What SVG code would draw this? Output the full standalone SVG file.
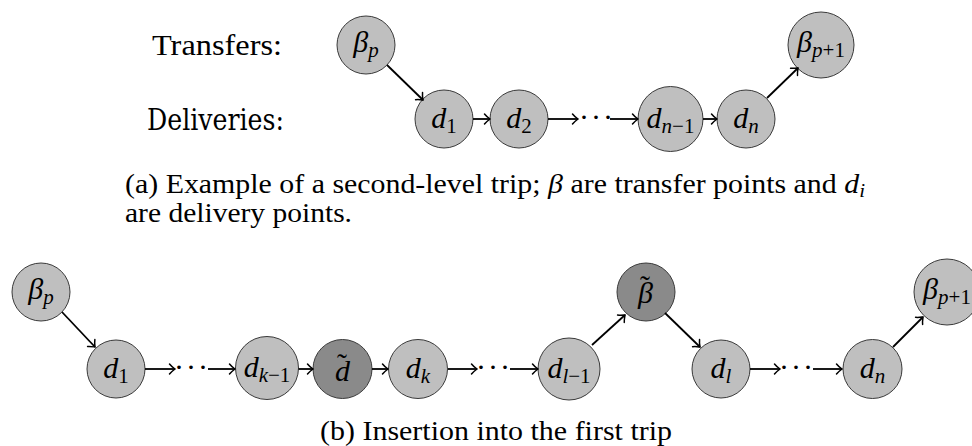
<svg xmlns="http://www.w3.org/2000/svg" width="972" height="446" viewBox="0 0 972 446">
<style>
.n{fill:#bfbfbf;stroke:#3a3a3a;stroke-width:1}
.dk{fill:#8a8a8a}
.lbl{font-size:30px;font-style:italic;fill:#000}
.sub{font-size:21px}
.up{font-style:normal}
.tl{font-style:normal}
.row{font-size:30px;fill:#000}
.cap{font-size:27px;fill:#000}
.it{font-style:italic}
.dots{font-size:30px;fill:#000;letter-spacing:2px}
.e{stroke:#000;stroke-width:1.8;fill:none;marker-end:url(#ah)}
</style>
<defs>
<marker id="ah" markerUnits="userSpaceOnUse" markerWidth="14" markerHeight="14" viewBox="-8 -7 10 14" refX="0" refY="0" orient="auto" overflow="visible">
<path d="M-5.5,-5 C-3.5,-2.5 -1,-0.8 0,0 C-1,0.8 -3.5,2.5 -5.5,5" fill="none" stroke="#000" stroke-width="1.5" stroke-linecap="round"/>
</marker>
</defs>
<g font-family="Liberation Serif, serif">
<!-- (a) -->
<g id="rowlabels">
<text class="row" x="152" y="55" textLength="130" lengthAdjust="spacingAndGlyphs">Transfers:</text>
<text class="row" x="147" y="130" textLength="137" lengthAdjust="spacingAndGlyphs" font-family="DejaVu Serif">Deliveries:</text>
</g>
<g id="a-bp"><circle class="n" cx="366" cy="45" r="29"/><text class="lbl" x="366" y="52" text-anchor="middle">β<tspan class="sub" dy="5">p</tspan></text></g>
<g id="a-d1"><circle class="n" cx="444" cy="119" r="29"/><text class="lbl" x="444" y="128" text-anchor="middle">d<tspan class="sub up" dy="5">1</tspan></text></g>
<g id="a-d2"><circle class="n" cx="519" cy="119" r="29"/><text class="lbl" x="519" y="128" text-anchor="middle">d<tspan class="sub up" dy="5">2</tspan></text></g>
<g id="a-dn1"><circle class="n" cx="670.5" cy="119" r="32.5"/><text class="lbl" x="670.5" y="128" text-anchor="middle">d<tspan class="sub" dy="5">n<tspan class="up">−1</tspan></tspan></text></g>
<g id="a-dn"><circle class="n" cx="746" cy="119" r="29"/><text class="lbl" x="746" y="128" text-anchor="middle">d<tspan class="sub" dy="5">n</tspan></text></g>
<g id="a-bp1"><circle class="n" cx="821" cy="45" r="33"/><text class="lbl" x="821" y="52" text-anchor="middle">β<tspan class="sub" dy="5">p<tspan class="up">+1</tspan></tspan></text></g>
<g id="a-dots"><text class="dots" x="597" y="127" text-anchor="middle">···</text></g>
<g id="a-edges">
<line class="e" x1="387" y1="65" x2="423" y2="100"/>
<line class="e" x1="473" y1="119" x2="490" y2="119"/>
<line class="e" x1="548" y1="119" x2="578" y2="119"/>
<line class="e" x1="610" y1="119" x2="638" y2="119"/>
<line class="e" x1="703" y1="119" x2="717" y2="119"/>
<line class="e" x1="767" y1="98" x2="798" y2="68"/>
</g>
<g id="cap-a" font-family="Liberation Serif">
<text class="cap" x="125" y="193" textLength="740" lengthAdjust="spacingAndGlyphs">(a) Example of a second-level trip; <tspan class="it">β</tspan> are transfer points and <tspan class="it">d</tspan><tspan class="it" font-size="19" dy="4">i</tspan></text>
<text class="cap" x="125" y="222" textLength="227" lengthAdjust="spacingAndGlyphs">are delivery points.</text>
</g>

<!-- (b) -->
<g id="b-bp"><circle class="n" cx="41" cy="292" r="29"/><text class="lbl" x="41" y="299" text-anchor="middle">β<tspan class="sub" dy="5">p</tspan></text></g>
<g id="b-d1"><circle class="n" cx="116" cy="369" r="29"/><text class="lbl" x="116" y="378" text-anchor="middle">d<tspan class="sub up" dy="5">1</tspan></text></g>
<g id="b-dk1"><circle class="n" cx="267" cy="368" r="31.5"/><text class="lbl" x="267" y="377" text-anchor="middle">d<tspan class="sub" dy="5">k<tspan class="up">−1</tspan></tspan></text></g>
<g id="b-dt"><circle class="n dk" cx="342.5" cy="369" r="29.5"/><text class="lbl" x="335" y="381">d<tspan class="tl" dx="-13" dy="-7">˜</tspan></text></g>
<g id="b-dk"><circle class="n" cx="418" cy="369" r="29.5"/><text class="lbl" x="418" y="378" text-anchor="middle">d<tspan class="sub" dy="5">k</tspan></text></g>
<g id="b-dl1"><circle class="n" cx="569" cy="369" r="31"/><text class="lbl" x="569" y="378" text-anchor="middle">d<tspan class="sub" dy="5">l<tspan class="up">−1</tspan></tspan></text></g>
<g id="b-bt"><circle class="n dk" cx="646" cy="292" r="29"/><text class="lbl" x="638" y="303">β<tspan class="tl" dx="-13" dy="-7">˜</tspan></text></g>
<g id="b-dl"><circle class="n" cx="721" cy="369" r="29"/><text class="lbl" x="721" y="378" text-anchor="middle">d<tspan class="sub" dy="5">l</tspan></text></g>
<g id="b-dn"><circle class="n" cx="872.5" cy="369" r="29.5"/><text class="lbl" x="872.5" y="378" text-anchor="middle">d<tspan class="sub" dy="5">n</tspan></text></g>
<g id="b-bp1"><circle class="n" cx="947" cy="292" r="33"/><text class="lbl" x="947" y="299" text-anchor="middle">β<tspan class="sub" dy="5">p<tspan class="up">+1</tspan></tspan></text></g>
<g id="b-dots">
<text class="dots" x="192" y="377" text-anchor="middle">···</text>
<text class="dots" x="494" y="377" text-anchor="middle">···</text>
<text class="dots" x="797" y="377" text-anchor="middle">···</text>
</g>
<g id="b-edges">
<line class="e" x1="62" y1="312" x2="95" y2="347"/>
<line class="e" x1="145" y1="369" x2="175" y2="369"/>
<line class="e" x1="208" y1="369" x2="235" y2="369"/>
<line class="e" x1="298.5" y1="369" x2="313" y2="369"/>
<line class="e" x1="372" y1="369" x2="388" y2="369"/>
<line class="e" x1="448" y1="369" x2="477" y2="369"/>
<line class="e" x1="510" y1="369" x2="538" y2="369"/>
<line class="e" x1="592" y1="345" x2="625" y2="315"/>
<line class="e" x1="665" y1="313" x2="700" y2="347"/>
<line class="e" x1="750" y1="369" x2="780" y2="369"/>
<line class="e" x1="813" y1="369" x2="842" y2="369"/>
<line class="e" x1="893" y1="347" x2="923" y2="317"/>
</g>
<g id="cap-b">
<text class="cap" x="320" y="440" textLength="352" lengthAdjust="spacingAndGlyphs">(b) Insertion into the first trip</text>
</g>
</g>
</svg>
